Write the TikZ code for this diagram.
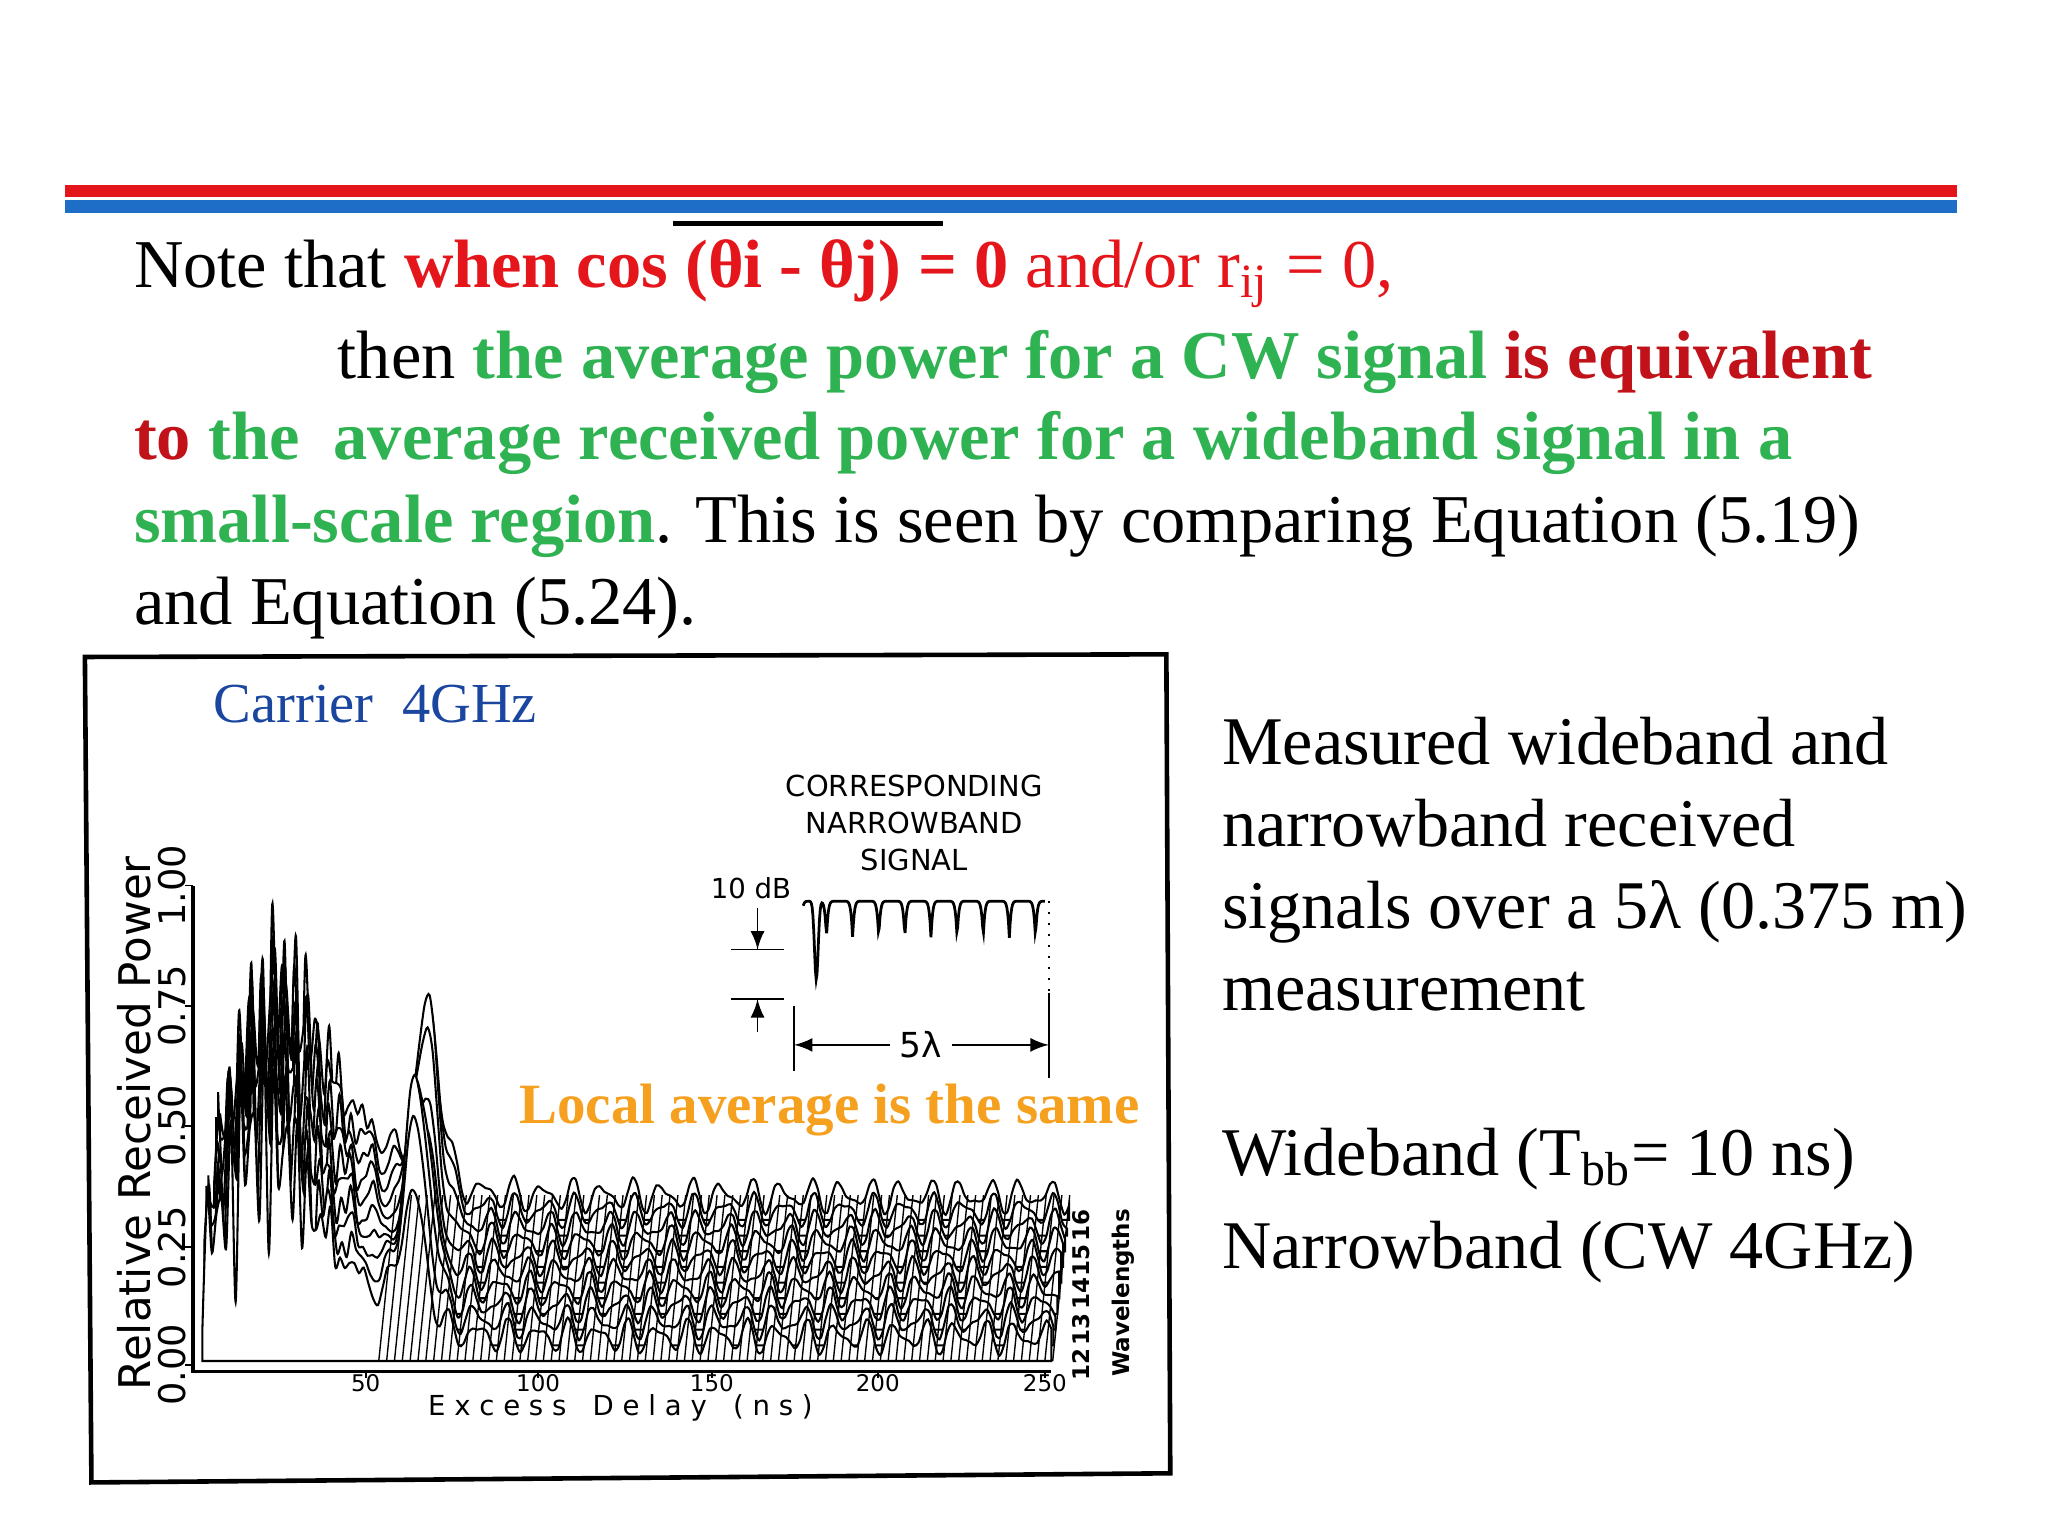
\documentclass[tikz,border=0pt]{standalone}
\usepackage{fontspec}
\setmainfont{Liberation Serif}
\newfontfamily\plotsans{DejaVu Sans}
\definecolor{hred}{RGB}{228,22,28}
\definecolor{dred}{RGB}{192,18,24}
\definecolor{hgreen}{RGB}{46,178,82}
\definecolor{hblue}{RGB}{26,70,160}
\definecolor{horange}{RGB}{245,160,30}
\definecolor{barblue}{RGB}{30,110,200}
\begin{document}
\begin{tikzpicture}[x=0.01cm,y=-0.01cm,
  body/.style={anchor=base west,inner sep=0pt,font=\fontsize{14.9}{18}\selectfont},
  side/.style={anchor=base west,inner sep=0pt,font=\fontsize{14.85}{18}\selectfont},
  tick/.style={font=\plotsans\fontsize{6}{7}\selectfont,inner sep=0pt},
  wire/.style={line width=0.45pt,fill=white},
  declare function={ga(\u)=exp(max(-(\u)^2,-8));}]
\useasboundingbox[fill=white] (0,0) rectangle (1568,1176);
% header bars
\fill[hred] (50,142) rectangle (1498,151);
\fill[barblue] (50,153) rectangle (1498,163);
\draw[line width=1pt] (515,171) -- (722,171);
% text
\node[body] (l1) at (102,220) {Note that \textcolor{hred}{\textbf{when cos (θi - θj) = 0} and/or r\textsubscript{ij} = 0,}};
\node[body] (l2) at (258,290) {then \textcolor{hgreen}{\textbf{the average power for a CW signal}} \textcolor{dred}{\textbf{is equivalent}}};
\node[body] (l3) at (102,352) {\textcolor{dred}{\textbf{to}} \textcolor{hgreen}{\textbf{the\ \ average received power for a wideband signal in a}}};
\node[body] (l4) at (102,415) {\textcolor{hgreen}{\textbf{small-scale region}}. This is seen by comparing Equation (5.19)};
\node[body] (l5) at (102,478) {and Equation (5.24).};
% figure frame
\draw[line width=1pt] (65,503) -- (893,501) -- (896,1128) -- (70,1135) -- cycle;
\node[anchor=base west,inner sep=0pt,text=hblue,font=\fontsize{12.3}{15}\selectfont] (car) at (163,553) {Carrier\ \ 4GHz};
% axes
\draw[line width=0.8pt] (148,678) -- (148,1050) -- (805,1050);
\foreach \yy/\lab in {1045/0.00,955/0.25,862/0.50,770/0.75,678/1.00}{
  \draw (142,\yy) -- (148,\yy);
  \node[tick,rotate=90,font=\plotsans\fontsize{8}{9}\selectfont] at (132,\yy) {\lab};}
\node[rotate=90,font=\plotsans\fontsize{9.5}{11}\selectfont,inner sep=0pt] (ylab) at (103,860) {Relative Received Power};
\foreach \xx/\lab in {280/50,412/100,545/150,672/200,800/250}{
  \draw (\xx,1050) -- (\xx,1055);
  \node[tick,font=\plotsans\fontsize{5}{6}\selectfont] at (\xx,1059) {\lab};}
\node[tick,font=\plotsans\fontsize{6}{7}\selectfont] (xlab) at (475,1078) {E x c e s s \ \ D e l a y \ \ ( n s )};
% wireframe
\foreach \k in {9,8,...,0}{
  \pgfmathsetmacro{\ox}{\k*1.5}
  \pgfmathsetmacro{\oy}{-\k*12}
  \begin{scope}[shift={(\ox,\oy)}]
  \draw[wire] plot[domain=0:250,samples=180,smooth] ({155+\x*2.6},{1042-370*(0.05+0.5*ga((\x-16)/17)*abs(sin(\x*55+\k*35))+0.14*ga((\x-35)/25)+0.42*ga((\x-62)/5)*(0.6+0.4*abs(sin(\k*40)))+0.025*sin(\x*41+\k*57)+0.015*sin(\x*61+\k*23))}) -- ({155+250*2.6},1042) -- (155,1042) -- cycle;
  \end{scope}}
\foreach \xx in {290,296,...,806}{\draw[line width=0.3pt] (\xx,1042) -- (\xx+13,915);}
% wavelength labels
\foreach \i/\yy in {12/1045,13/1018,14/990,15/965,16/938}{
  \node[tick,rotate=90,font=\plotsans\bfseries\fontsize{5}{6}\selectfont] at (828,\yy) {\i};}
\node[tick,rotate=90,font=\plotsans\bfseries\fontsize{5}{6}\selectfont] (wl) at (860,990) {Wavelengths};
% inset
\node[font=\plotsans\fontsize{6.3}{8}\selectfont,align=center,inner sep=0pt] (corr) at (700,630) {CORRESPONDING\\NARROWBAND\\SIGNAL};
\node[font=\plotsans\fontsize{6}{7}\selectfont,inner sep=0pt] (db) at (575,680) {10 dB};
\draw[line width=0.6pt] plot[domain=0:185,samples=300] ({615+\x},{690+28*(1-abs(sin(\x*9+20)))^5+60*ga((\x-10)/2)});
\draw (580,695) -- (580,727); \draw (560,727) -- (600,727);
\draw (560,765) -- (600,765); \draw (580,765) -- (580,790);
\draw[-latex] (580,705) -- (580,727);
\draw[-latex] (580,785) -- (580,765);
\draw (608,770) -- (608,820); \draw (803,760) -- (803,825);
\draw[dotted] (803,690) -- (803,760);
\node[font=\plotsans\fontsize{7.5}{9}\selectfont,inner sep=2pt] (lam) at (705,800) {5λ};
\draw[-latex] (lam.west) -- (608,800);
\draw[-latex] (lam.east) -- (803,800);
\node[anchor=base west,inner sep=0pt,text=horange,font=\bfseries\fontsize{12.4}{15}\selectfont] (loc) at (397,860) {Local average is the same};
% right text
\node[side] (m1) at (935,585) {Measured wideband and};
\node[side] (m2) at (935,648) {narrowband received};
\node[side] (m3) at (935,711) {signals over a 5λ (0.375 m)};
\node[side] (m4) at (935,774) {measurement};
\node[side] (w1) at (935,900) {Wideband (T\textsubscript{bb}= 10 ns)};
\node[side] (w2) at (935,971) {Narrowband (CW 4GHz)};
\end{tikzpicture}
\end{document}
